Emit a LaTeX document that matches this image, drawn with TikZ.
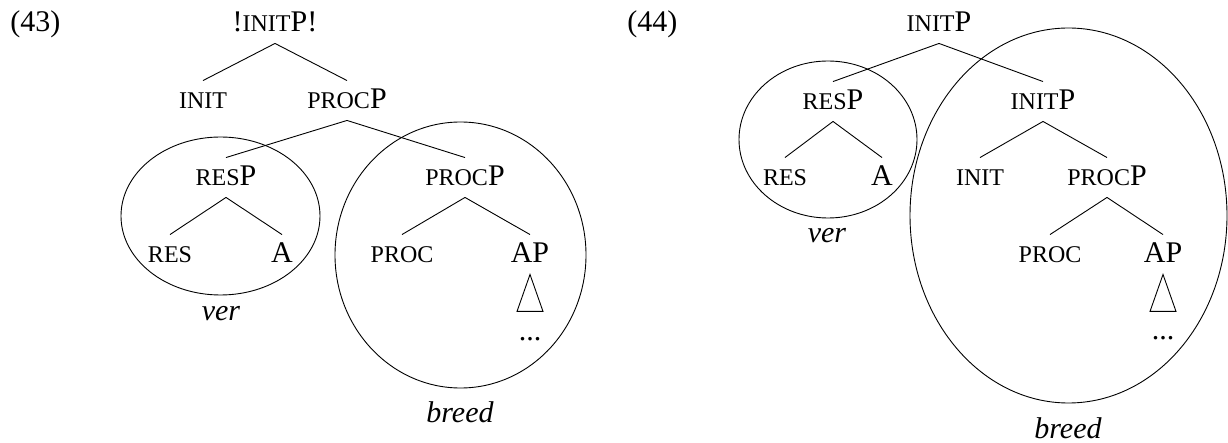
\documentclass[tikz,border=0pt]{standalone}
\usepackage{fontspec}
\setmainfont{Liberation Serif}
\usepackage{tikz}

\newcommand{\smc}[1]{{\fontsize{24pt}{24pt}\selectfont #1}}

\begin{document}
\begin{tikzpicture}[x=1pt, y=-1pt, line width=0.9pt,
    every node/.style={anchor=base, font=\fontsize{30pt}{30pt}\selectfont,
      text height=20pt, text depth=3pt, inner xsep=0pt, inner ysep=8pt}]
  \useasboundingbox (0,0) rectangle (1228,443);

  % (43)
  \node[anchor=base west] (exL) at (10,32){(43)};
  \node (rootL) at (275,32){!\smc{INIT}P!};
  \node (initL) at (203,109){\smc{INIT}};
  \node (procPL) at (347,109){\smc{PROC}P};
  \node (resPL) at (226,186){\smc{RES}P};
  \node (resL) at (170,263){\smc{RES}};
  \node (aL) at (282,263){A};
  \node (procPPL) at (465,186){\smc{PROC}P};
  \node (procL) at (402,263){\smc{PROC}};
  \node (apL) at (530,263){AP};
  \node (dotsL) at (530,341){...};
  \node (verL) at (221,320){\itshape ver};
  \node (breedL) at (460,422){\itshape breed};
  \draw (rootL.south)--(initL.north);
  \draw (rootL.south)--(procPL.north);
  \draw (procPL.south)--(resPL.north);
  \draw (procPL.south)--(procPPL.north);
  \draw (resPL.south)--(resL.north);
  \draw (resPL.south)--(aL.north);
  \draw (procPPL.south)--(procL.north);
  \draw (procPPL.south)--(apL.north);
  \draw (apL.south) -- ++(-13,37) -- ++(26,0) -- cycle;
  \draw (220.5,216) ellipse [x radius=99.5pt, y radius=79pt];
  \draw (460.5,255) ellipse [x radius=125.5pt, y radius=133pt];

  % (44)
  \node[anchor=base west] (exR) at (627,32){(44)};
  \node (rootR) at (939,32){\smc{INIT}P};
  \node (resPR) at (833,110){\smc{RES}P};
  \node (resR) at (785,186){\smc{RES}};
  \node (aR) at (882,186){A};
  \node (initPR) at (1043,110){\smc{INIT}P};
  \node (initR) at (980,186){\smc{INIT}};
  \node (procPR) at (1107,186){\smc{PROC}P};
  \node (procR) at (1050,263){\smc{PROC}};
  \node (apR) at (1163,263){AP};
  \node (dotsR) at (1163,340){...};
  \node (verR) at (827,243){\itshape ver};
  \node (breedR) at (1068,438){\itshape breed};
  \draw (rootR.south)--(resPR.north);
  \draw (rootR.south)--(initPR.north);
  \draw (resPR.south)--(resR.north);
  \draw (resPR.south)--(aR.north);
  \draw (initPR.south)--(initR.north);
  \draw (initPR.south)--(procPR.north);
  \draw (procPR.south)--(procR.north);
  \draw (procPR.south)--(apR.north);
  \draw (apR.south) -- ++(-13,37) -- ++(26,0) -- cycle;
  \draw (828,139.5) ellipse [x radius=89pt, y radius=78.5pt];
  \draw (1068.5,215.5) ellipse [x radius=158.5pt, y radius=187.5pt];
\end{tikzpicture}
\end{document}
